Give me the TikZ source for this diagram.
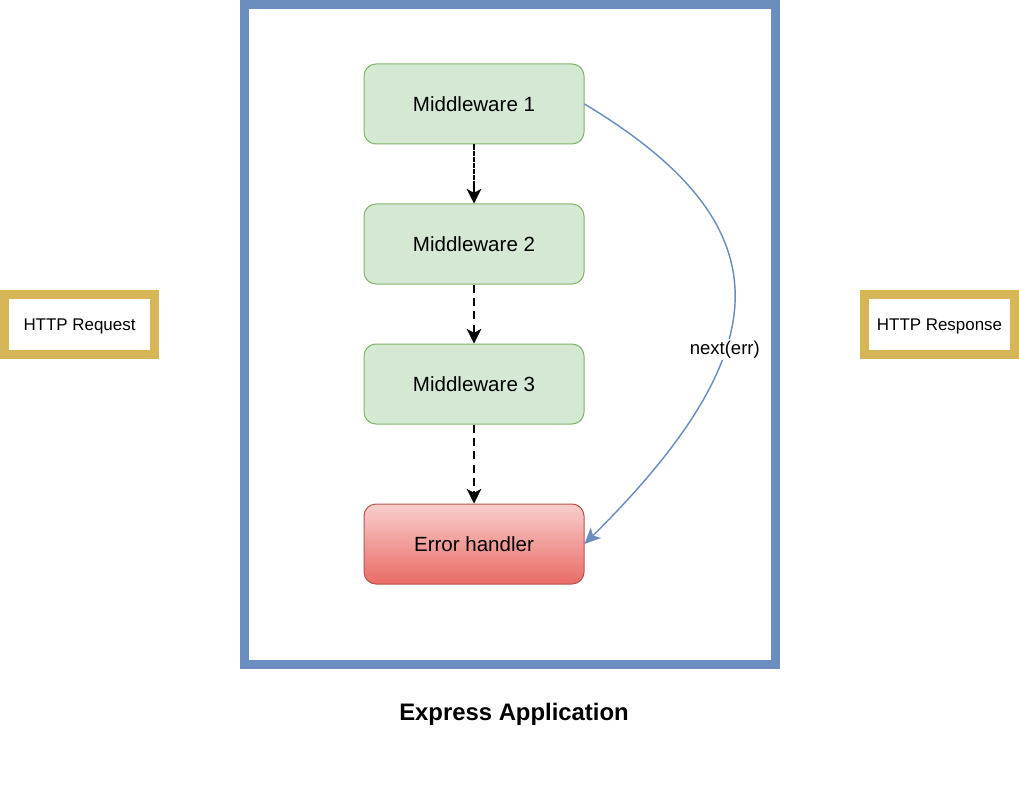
\documentclass[tikz,border=0pt]{standalone}
\usepackage{fontspec}
\setmainfont{Liberation Sans}
\usetikzlibrary{arrows.meta}
\definecolor{frameblue}{HTML}{6C8EBF}
\definecolor{gold}{HTML}{D6B656}
\definecolor{greenfill}{HTML}{D5E8D4}
\definecolor{greenline}{HTML}{82B366}
\definecolor{redtop}{HTML}{F8CECC}
\definecolor{redbot}{HTML}{EA6B66}
\definecolor{redline}{HTML}{B85450}
\tikzset{
  mwbox/.style={draw=greenline, fill=greenfill, rounded corners=9pt, line width=0.75pt,
    minimum width=165pt, minimum height=60pt, inner sep=0pt,
    font=\fontsize{15.4}{18}\selectfont},
  errbox/.style={draw=redline, top color=redtop, bottom color=redbot, rounded corners=9pt, line width=0.75pt,
    minimum width=165pt, minimum height=60pt, inner sep=0pt,
    font=\fontsize{15.4}{18}\selectfont},
  httpbox/.style={draw=gold, fill=white, line width=6.6pt, minimum width=113pt, minimum height=45pt,
    inner sep=0pt, font=\fontsize{12.7}{15}\selectfont},
  flow/.style={line width=1.4pt, -{Stealth[length=11pt, width=11pt, inset=3pt]}},
  errflow/.style={draw=frameblue, line width=1.1pt, -{Stealth[length=12pt, width=11pt, inset=3pt]}},
}
\begin{document}
\begin{tikzpicture}[x=0.75pt, y=-0.75pt]
\useasboundingbox (0,0) rectangle (1019,805);
% application frame
\draw[frameblue, line width=6.75pt] (244.5,4.5) rectangle (775,664);
\node[font=\bfseries\fontsize{17.9}{21}\selectfont] (app) at (514,714) {Express Application};
% http boxes
\node[httpbox, text depth=-1.5pt] (req) at (79.5,324.5) {HTTP Request};
\node[httpbox, text depth=-1.5pt] (res) at (939.5,324.5) {HTTP Response};
% middleware chain
\node[mwbox] (m1) at (474,104) {Middleware 1};
\node[mwbox] (m2) at (474,244) {Middleware 2};
\node[mwbox] (m3) at (474,384) {Middleware 3};
\node[errbox] (eh) at (474,544) {Error handler};
\draw[flow, dash pattern=on 4pt off 0.6pt] (m1.south) -- (m2.north);
\draw[flow, dash pattern=on 6pt off 4pt] (m2.south) -- (m3.north);
\draw[flow, dash pattern=on 6pt off 4pt] (m3.south) -- (eh.north);
% error path
\draw[errflow] (m1.east) .. controls (784,224) and (784,346) .. (eh.east)
  node[pos=0.625, fill=white, inner sep=1.5pt, text=black, font=\fontsize{13.9}{16}\selectfont] (lbl) {next(err)};
\end{tikzpicture}
\end{document}
